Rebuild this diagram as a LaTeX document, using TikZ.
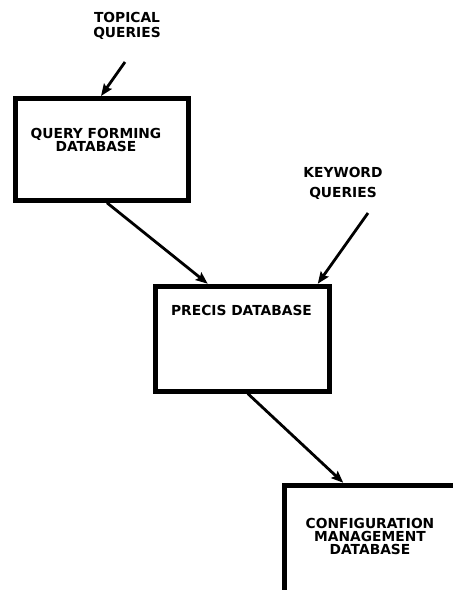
\documentclass[tikz,border=0pt]{standalone}
\usepackage{fontspec}
\setmainfont{DejaVu Sans}
\usepackage{tikz}
\usetikzlibrary{calc,arrows.meta}

\begin{document}
\begin{tikzpicture}[x=1pt,y=-1pt]

		\path[use as bounding box, clip] (0,0) rectangle (453,590);
		\tikzset{dbbox/.style={draw, line width=4.8pt, anchor=north west, minimum width=173pt, minimum height=102pt}}
		\tikzset{dbtext/.style={align=center, inner sep=0pt, font=\bfseries\fontsize{13.8}{13}\selectfont}}
		\tikzset{flow/.style={line width=2.8pt, -{Stealth[length=12pt,width=9.5pt,inset=2pt]}}}

		\node[dbbox] (QF) at (13,96) {};
		\node[dbbox, minimum width=174pt, minimum height=105pt] (PD) at (152.75,283.75) {};
		\node[dbbox, minimum width=260pt, minimum height=200pt] (CM) at (282.25,482.75) {};

		\node[dbtext, font=\bfseries\fontsize{13.8}{14.3}\selectfont] (TQ) at (127,26) {TOPICAL\\QUERIES};
		\node[dbtext] (KQ) at (343,183) {KEYWORD\\[7pt]QUERIES};
		\node[dbtext] (QFt) at (96,140) {QUERY FORMING\\DATABASE};
		\node[dbtext] (PDt) at (241.5,310) {PRECIS DATABASE};
		\node[dbtext] (CMt) at (370,536.5) {CONFIGURATION\\MANAGEMENT\\DATABASE};

		% tails of the two query arrows
		\coordinate (TQa) at (125,62);
		\coordinate (KQa) at (368,213);

    \draw[flow] (TQa) -- ([xshift=88pt]QF.north west);
    \draw[flow] ([xshift=94pt]QF.south west) -- ([xshift=55pt]PD.north west);
    \draw[flow] (KQa) -- ([xshift=165pt]PD.north west);
    \draw[flow] ([xshift=95pt]PD.south west) -- ([xshift=61pt]CM.north west);

		\end{tikzpicture}
\end{document}
